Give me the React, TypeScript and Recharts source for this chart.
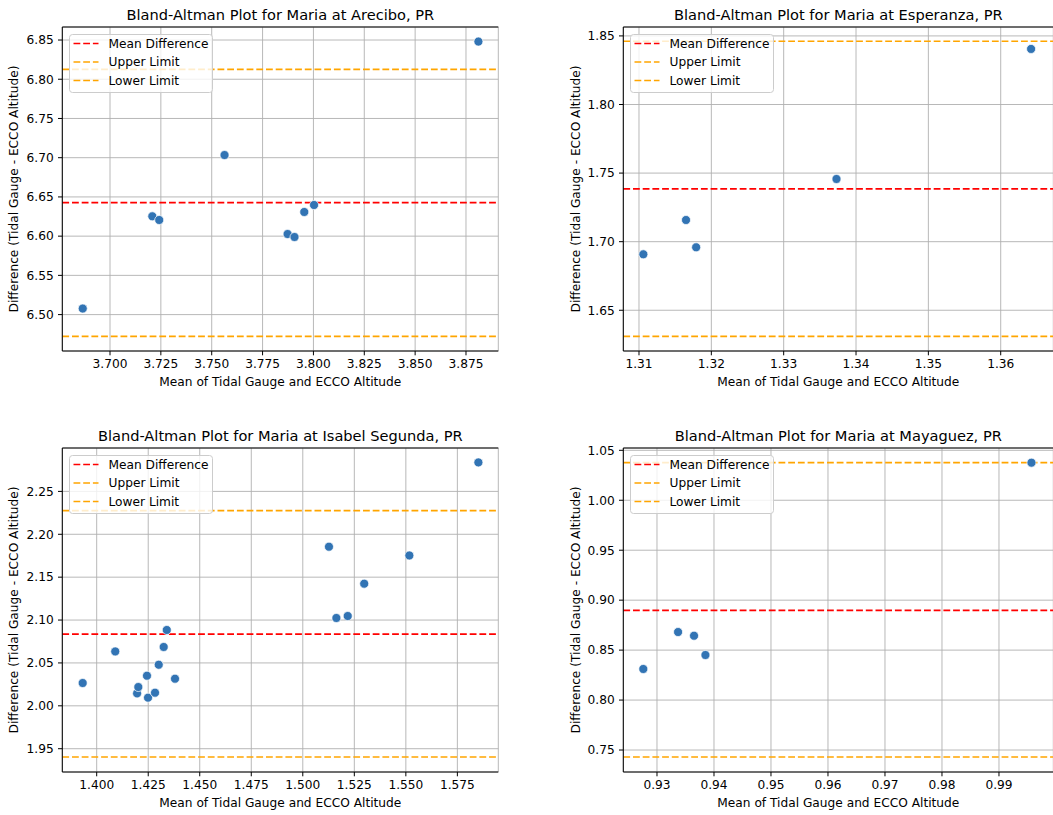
import {
  CartesianGrid,
  Legend,
  ReferenceLine,
  Scatter,
  ScatterChart,
  XAxis,
  YAxis,
  ZAxis,
} from "recharts"

const FONT = "'DejaVu Sans', Verdana, sans-serif"

// Arecibo
const areciboMean = [3.6866, 3.7208, 3.7242, 3.7563, 3.7873, 3.7907, 3.7955, 3.8003, 3.8811]
const areciboDiff = [6.5077, 6.6253, 6.6206, 6.7034, 6.6027, 6.5989, 6.6308, 6.6397, 6.848]
const areciboLimits = [6.6427, 6.8127, 6.4723] // mean, upper, lower
const areciboXTicks = [3.7, 3.725, 3.75, 3.775, 3.8, 3.825, 3.85, 3.875]
const areciboYTicks = [6.5, 6.55, 6.6, 6.65, 6.7, 6.75, 6.8, 6.85]

// Esperanza
const esperanzaMean = [1.3106, 1.3165, 1.3179, 1.3373, 1.3642]
const esperanzaDiff = [1.6908, 1.7158, 1.6959, 1.7457, 1.8405]
const esperanzaLimits = [1.7385, 1.8461, 1.631]
const esperanzaXTicks = [1.31, 1.32, 1.33, 1.34, 1.35, 1.36]
const esperanzaYTicks = [1.65, 1.7, 1.75, 1.8, 1.85]

// Isabel Segunda
const isabelMean = [
  1.3932, 1.409, 1.4196, 1.4202, 1.4244, 1.4249, 1.4283, 1.4301, 1.4325, 1.434, 1.438,
  1.5127, 1.5163, 1.5218, 1.5298, 1.5517, 1.5852,
]
const isabelDiff = [
  2.0266, 2.0634, 2.0145, 2.0219, 2.0351, 2.0095, 2.0153, 2.0479, 2.0686, 2.0884, 2.0316,
  2.1855, 2.1024, 2.1047, 2.1424, 2.1753, 2.2838,
]
const isabelLimits = [2.0837, 2.2277, 1.9403]
const isabelXTicks = [1.4, 1.425, 1.45, 1.475, 1.5, 1.525, 1.55, 1.575]
const isabelYTicks = [1.95, 2.0, 2.05, 2.1, 2.15, 2.2, 2.25]

// Mayaguez
const mayaguezMean = [0.9276, 0.9337, 0.9365, 0.9385, 0.9957]
const mayaguezDiff = [0.8311, 0.8681, 0.8644, 0.8451, 1.0376]
const mayaguezLimits = [0.8897, 1.0376, 0.743]
const mayaguezXTicks = [0.93, 0.94, 0.95, 0.96, 0.97, 0.98, 0.99]
const mayaguezYTicks = [0.75, 0.8, 0.85, 0.9, 0.95, 1.0, 1.05]

const legendLabels = ["Mean Difference", "Upper Limit", "Lower Limit"]
const legendColors = ["red", "orange", "orange"]

const DASH = "6.8 2.9"

function LegendBox() {
  return (
    <svg width={144} height={59} style={{ display: "block" }}>
      <rect x={0.5} y={0.5} width={143} height={58} rx={3} fill="rgba(255,255,255,0.8)" stroke="#cccccc" />
      {legendLabels.map((label, i) => {
        const cy = 9.5 + i * 18.5
        return (
          <g key={label}>
            <line x1={4.5} x2={29.5} y1={cy} y2={cy} stroke={legendColors[i]} strokeWidth={1.7} strokeDasharray={DASH} />
            <text x={39.5} y={cy + 4.4} fontSize={12.2} fontFamily={FONT} fill="#000">
              {label}
            </text>
          </g>
        )
      })}
    </svg>
  )
}

type PanelProps = {
  title: string
  xs: number[]
  ys: number[]
  limits: number[]
  xDomain: [number, number]
  yDomain: [number, number]
  xTicks: number[]
  yTicks: number[]
  xDigits: number
  left: number
  top: number
  width: number
  plotLeft: number
  plotWidth: number
  labelX: number
}

function Panel(p: PanelProps) {
  const data = p.xs.map((x, i) => ({ x, y: p.ys[i] }))
  const tickStyle = { fill: "#000", fontSize: 12.2, fontFamily: FONT }
  return (
    <div style={{ position: "absolute", left: p.left, top: p.top }}>
      <ScatterChart
        width={p.width}
        height={394}
        margin={{ top: 7, right: p.width - p.plotLeft - p.plotWidth, bottom: 21, left: 0 }}
      >
        <CartesianGrid stroke="#b0b0b0" strokeWidth={0.9} />
        <XAxis
          type="number"
          dataKey="x"
          domain={p.xDomain}
          ticks={p.xTicks}
          interval={0}
          allowDataOverflow
          tickFormatter={(v: number) => v.toFixed(p.xDigits)}
          height={22}
          tickSize={4.3}
          tickMargin={4}
          axisLine={{ stroke: "#000", strokeWidth: 1 }}
          tickLine={{ stroke: "#000", strokeWidth: 1 }}
          tick={tickStyle}
          label={{
            value: "Mean of Tidal Gauge and ECCO Altitude",
            position: "bottom",
            offset: 4.5,
            style: { fill: "#000", fontSize: 12.2, fontFamily: FONT },
          }}
        />
        <XAxis
          xAxisId="top"
          orientation="top"
          type="number"
          domain={p.xDomain}
          allowDataOverflow
          height={20}
          tick={false}
          tickLine={false}
          axisLine={{ stroke: "#000", strokeWidth: 1 }}
          label={{
            value: p.title,
            position: "insideBottom",
            offset: 7.5,
            style: { fill: "#000", fontSize: 14.6, fontFamily: FONT },
          }}
        />
        <YAxis
          type="number"
          dataKey="y"
          domain={p.yDomain}
          ticks={p.yTicks}
          interval={0}
          allowDataOverflow
          tickFormatter={(v: number) => v.toFixed(2)}
          width={p.plotLeft}
          tickSize={4.3}
          tickMargin={4.3}
          axisLine={{ stroke: "#000", strokeWidth: 1 }}
          tickLine={{ stroke: "#000", strokeWidth: 1 }}
          tick={tickStyle}
          label={{
            value: "Difference (Tidal Gauge - ECCO Altitude)",
            angle: -90,
            position: "insideLeft",
            offset: p.labelX,
            style: { textAnchor: "middle", fill: "#000", fontSize: 12.2, fontFamily: FONT },
          }}
        />
        <YAxis
          yAxisId="right"
          orientation="right"
          type="number"
          domain={p.yDomain}
          allowDataOverflow
          width={0}
          tick={false}
          tickLine={false}
          axisLine={{ stroke: "#000", strokeWidth: 1 }}
        />
        <ZAxis range={[56, 56]} />
        <ReferenceLine y={p.limits[0]} stroke="red" strokeWidth={1.7} strokeDasharray={DASH} />
        <ReferenceLine y={p.limits[1]} stroke="orange" strokeWidth={1.7} strokeDasharray={DASH} />
        <ReferenceLine y={p.limits[2]} stroke="orange" strokeWidth={1.7} strokeDasharray={DASH} />
        <Scatter data={data} fill="#3274b4" stroke="#ffffff" strokeWidth={0.7} isAnimationActive={false} />
        <Legend
          layout="horizontal"
          verticalAlign="middle"
          align="center"
          wrapperStyle={{ left: p.plotLeft + 6.4, top: 33.5, width: 144, height: 59 }}
          content={() => <LegendBox />}
        />
      </ScatterChart>
    </div>
  )
}

export default function App() {
  return (
    <div
      style={{
        position: "absolute",
        left: 0,
        top: 0,
        width: 1053,
        height: 815,
        overflow: "hidden",
        background: "#fff",
      }}
    >
      <Panel
        title="Bland-Altman Plot for Maria at Arecibo, PR"
        xs={areciboMean}
        ys={areciboDiff}
        limits={areciboLimits}
        xDomain={[3.67655, 3.89088]}
        yDomain={[6.4536, 6.8666]}
        xTicks={areciboXTicks}
        yTicks={areciboYTicks}
        xDigits={3}
        left={0}
        top={0}
        width={520}
        plotLeft={62.3}
        plotWidth={436}
        labelX={14}
      />
      <Panel
        title="Bland-Altman Plot for Maria at Esperanza, PR"
        xs={esperanzaMean}
        ys={esperanzaDiff}
        limits={esperanzaLimits}
        xDomain={[1.30783, 1.36727]}
        yDomain={[1.6203, 1.8565]}
        xTicks={esperanzaXTicks}
        yTicks={esperanzaYTicks}
        xDigits={2}
        left={520}
        top={0}
        width={560}
        plotLeft={103.3}
        plotWidth={430}
        labelX={56}
      />
      <Panel
        title="Bland-Altman Plot for Maria at Isabel Segunda, PR"
        xs={isabelMean}
        ys={isabelDiff}
        limits={isabelLimits}
        xDomain={[1.38331, 1.59486]}
        yDomain={[1.92284, 2.3006]}
        xTicks={isabelXTicks}
        yTicks={isabelYTicks}
        xDigits={3}
        left={0}
        top={421}
        width={520}
        plotLeft={62.3}
        plotWidth={436}
        labelX={14}
      />
      <Panel
        title="Bland-Altman Plot for Maria at Mayaguez, PR"
        xs={mayaguezMean}
        ys={mayaguezDiff}
        limits={mayaguezLimits}
        xDomain={[0.92409, 0.99953]}
        yDomain={[0.728, 1.0523]}
        xTicks={mayaguezXTicks}
        yTicks={mayaguezYTicks}
        xDigits={2}
        left={520}
        top={421}
        width={560}
        plotLeft={103.3}
        plotWidth={430}
        labelX={56}
      />
    </div>
  )
}
